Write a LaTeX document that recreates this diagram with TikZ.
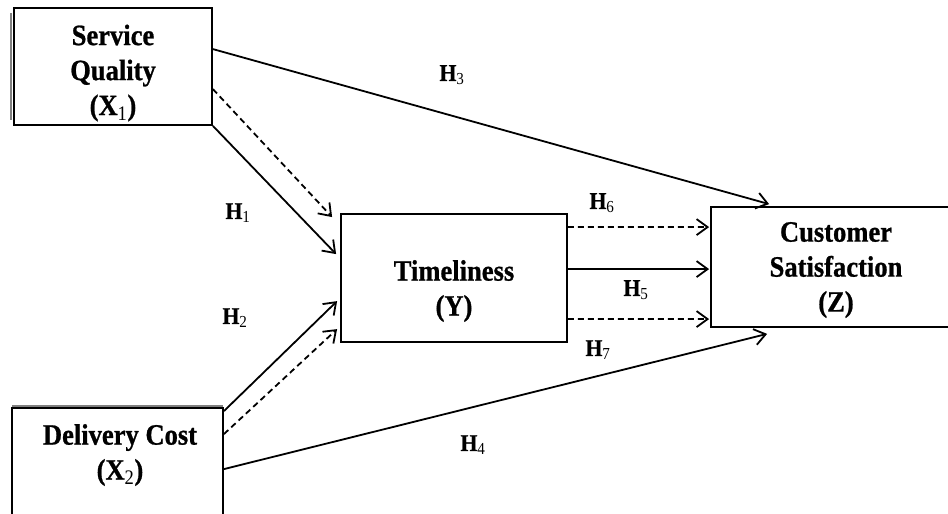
\documentclass[tikz,border=0pt]{standalone}
\usepackage{fontspec}
\setmainfont[FakeStretch=0.9,BoldFeatures={FakeBold=0.8}]{Liberation Serif}
\usetikzlibrary{arrows.meta,calc}

\tikzset{
  box/.style={draw,line width=1.8bp,inner sep=0pt},
  boxtext/.style={font=\fontsize{29.5bp}{35bp}\selectfont\bfseries,align=center,inner sep=0pt},
  hyp/.style={font=\fontsize{24bp}{28bp}\selectfont\bfseries,inner sep=0pt},
  link/.style={line width=1.8bp,-{Straight Barb[length=11bp,width=16bp]}},
  dlink/.style={link,dash pattern=on 6bp off 4bp}
}
\newcommand{\sbs}[1]{\textsubscript{\mdseries #1}}

\begin{document}
\begin{tikzpicture}[x=1bp,y=-1bp]
\useasboundingbox (0,0) rectangle (948,514);
\clip (0,0) rectangle (948,514);

\draw[gray,line width=1.6bp] (11,13) -- (11,120);
\draw[gray,line width=1.6bp] (12,406) -- (223,406);

\node[box,minimum width=198bp,minimum height=117bp] (sq) at (113,66.5) {};
\node[box,minimum width=226bp,minimum height=128bp] (ts) at (454,278) {};
\node[box,minimum width=211bp,minimum height=132bp] (dc) at (117.5,474) {};
\node[box,minimum width=279bp,minimum height=120bp] (cs) at (850.5,267) {};

\node[boxtext] (sqt) at (113,73) {Service\\Quality\\(X\sbs{1})};
\node[boxtext] (tst) at (454,291) {Timeliness\\(Y)};
\node[boxtext] (dct) at (120,455) {Delivery Cost\\(X\sbs{2})};
\node[boxtext] (cst) at (836,270) {Customer\\Satisfaction\\(Z)};

\draw[link] ($(sq.north east)+(0,42)$) -- ($(cs.north west)+(59,-2)$);
\draw[dlink] ($(sq.north east)+(0,82)$) -- ($(ts.north west)+(-8,4)$);
\draw[link] (sq.south east) -- ($(ts.north west)+(-4,41)$);
\draw[link] ($(dc.north east)+(0,4)$) -- ($(ts.north west)+(-3,88)$);
\draw[dlink] ($(dc.north east)+(0,27)$) -- ($(ts.north west)+(-3,116)$);
\draw[link] ($(dc.north east)+(0,62)$) -- ($(cs.south west)+(57,6)$);
\draw[dlink] ($(ts.north east)+(0,14)$) -- ($(cs.north west)+(-1,21)$);
\draw[link] ($(ts.north east)+(0,56)$) -- ($(cs.north west)+(-1,63)$);
\draw[dlink] ($(ts.north east)+(0,106)$) -- ($(cs.north west)+(-1,113)$);

\node[hyp] (h1) at (238,213) {H\sbs{1}};
\node[hyp] (h2) at (235,318) {H\sbs{2}};
\node[hyp] (h3) at (452,75) {H\sbs{3}};
\node[hyp] (h4) at (473,445) {H\sbs{4}};
\node[hyp] (h5) at (636,290) {H\sbs{5}};
\node[hyp] (h6) at (602,203) {H\sbs{6}};
\node[hyp] (h7) at (598,350) {H\sbs{7}};

\end{tikzpicture}
\end{document}
